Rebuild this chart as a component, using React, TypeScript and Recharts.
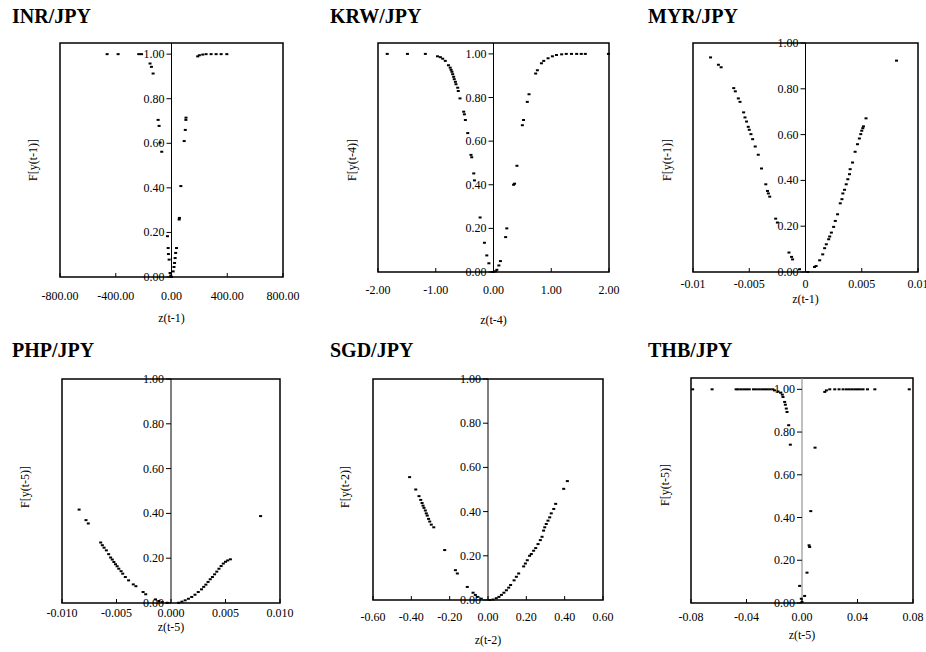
import React from "react";
import { ScatterChart, Scatter, XAxis, YAxis, ReferenceLine, ReferenceArea } from "recharts";

const serif = '"Liberation Serif", "DejaVu Serif", "Times New Roman", serif';

// y ticks shared by all panels
const yTicks = [0, 0.2, 0.4, 0.6, 0.8, 1.0];
const yTickLabels = ["0.00", "0.20", "0.40", "0.60", "0.80", "1.00"];

// INR/JPY
const inrTicks = [-800, -400, 0, 400, 800];
const inrTickLabels = ["-800.00", "-400.00", "0.00", "400.00", "800.00"];
const inrPoints = [
  [-462, 1.0], [-383, 1.0], [-235, 1.0], [-215, 1.0], [-154, 0.958], [-144, 0.943], [-132, 0.913],
  [-96, 0.705], [-89, 0.678], [-82, 0.603], [-70, 0.562], [-29, 0.183], [-24, 0.13], [-22, 0.103],
  [-17, 0.078], [-10, 0.018], [-5, 0.007], [0, 0.0], [12, 0.025], [18, 0.045], [22, 0.063],
  [26, 0.085], [30, 0.108], [36, 0.13], [55, 0.258], [57, 0.265], [67, 0.408], [91, 0.61],
  [99, 0.66], [103, 0.705], [104, 0.715], [188, 0.99], [200, 0.995], [224, 0.998], [248, 1.0],
  [284, 1.0], [320, 1.0], [356, 1.0], [397, 1.0],
];

// KRW/JPY
const krwTicks = [-2, -1, 0, 1, 2];
const krwTickLabels = ["-2.00", "-1.00", "0.00", "1.00", "2.00"];
const krwPoints = [
  [-1.84, 1.0], [-1.49, 1.0], [-1.18, 1.0], [-0.97, 0.989], [-0.92, 0.985], [-0.88, 0.978],
  [-0.835, 0.968], [-0.78, 0.948], [-0.75, 0.937], [-0.735, 0.927], [-0.72, 0.918], [-0.707, 0.907],
  [-0.69, 0.895], [-0.68, 0.884], [-0.66, 0.872], [-0.65, 0.861], [-0.62, 0.845], [-0.61, 0.83],
  [-0.58, 0.796], [-0.516, 0.735], [-0.504, 0.723], [-0.487, 0.697], [-0.446, 0.637],
  [-0.39, 0.537], [-0.377, 0.526], [-0.342, 0.452], [-0.33, 0.42], [-0.232, 0.25], [-0.157, 0.134],
  [-0.116, 0.076], [-0.08, 0.04], [-0.02, 0.0], [0.0, 0.0], [0.035, 0.003], [0.058, 0.01],
  [0.093, 0.03], [0.12, 0.05], [0.21, 0.16], [0.23, 0.2], [0.348, 0.4], [0.365, 0.405],
  [0.406, 0.487], [0.5, 0.673], [0.52, 0.697], [0.585, 0.78], [0.615, 0.815], [0.73, 0.91],
  [0.76, 0.925], [0.83, 0.957], [0.87, 0.968], [0.945, 0.98], [1.02, 0.989], [1.09, 0.995],
  [1.18, 0.998], [1.26, 1.0], [1.35, 1.0], [1.44, 1.0], [1.52, 1.0], [1.59, 1.0], [1.99, 1.0],
];

// MYR/JPY
const myrTicks = [-0.01, -0.005, 0, 0.005, 0.01];
const myrTickLabels = ["-0.01", "-0.005", "0", "0.005", "0.01"];
const myrPoints = [
  [-0.00844, 0.937], [-0.00774, 0.905], [-0.0075, 0.894], [-0.00638, 0.803], [-0.00624, 0.789],
  [-0.00597, 0.758], [-0.00582, 0.743], [-0.0055, 0.697], [-0.00538, 0.675], [-0.00524, 0.657],
  [-0.00509, 0.634], [-0.005, 0.621], [-0.00485, 0.602], [-0.0047, 0.58], [-0.00447, 0.548],
  [-0.0042, 0.512], [-0.00391, 0.452], [-0.00353, 0.383], [-0.00338, 0.354], [-0.0033, 0.343],
  [-0.00318, 0.329], [-0.00265, 0.233], [-0.0025, 0.216], [-0.00147, 0.085], [-0.00124, 0.066],
  [-0.00115, 0.055], [-0.00053, 0.012], [0.0002, 0.0], [0.0008, 0.022], [0.00094, 0.026],
  [0.00126, 0.051], [0.00153, 0.077], [0.0017, 0.104], [0.00185, 0.121], [0.00206, 0.143],
  [0.00215, 0.155], [0.0023, 0.172], [0.0025, 0.197], [0.00265, 0.223], [0.00285, 0.252],
  [0.00309, 0.3], [0.00324, 0.318], [0.00332, 0.343], [0.00347, 0.359], [0.00362, 0.383],
  [0.00376, 0.405], [0.00391, 0.427], [0.00397, 0.449], [0.00418, 0.478], [0.00441, 0.525],
  [0.00462, 0.558], [0.00479, 0.583], [0.00491, 0.602], [0.005, 0.617], [0.00509, 0.628],
  [0.00515, 0.636], [0.00538, 0.671], [0.00809, 0.923],
];

// PHP/JPY
const phpTicks = [-0.01, -0.005, 0, 0.005, 0.01];
const phpTickLabels = ["-0.010", "-0.005", "0.000", "0.005", "0.010"];
const phpPoints = [
  [-0.00843, 0.417], [-0.0078, 0.37], [-0.00759, 0.355], [-0.00645, 0.27], [-0.0063, 0.258],
  [-0.00614, 0.247], [-0.00593, 0.235], [-0.00572, 0.218], [-0.00554, 0.203], [-0.00539, 0.194],
  [-0.00524, 0.183], [-0.00509, 0.173], [-0.00494, 0.164], [-0.00479, 0.153], [-0.00458, 0.142],
  [-0.00443, 0.131], [-0.00419, 0.116], [-0.00389, 0.101], [-0.00346, 0.083], [-0.00322, 0.075],
  [-0.00256, 0.049], [-0.00232, 0.039], [-0.00142, 0.016], [-0.00111, 0.009], [-0.00081, 0.004],
  [-0.00036, 0.001], [0.0007, 0.001], [0.001, 0.006], [0.0013, 0.012], [0.0016, 0.019],
  [0.0019, 0.027], [0.0022, 0.037], [0.0025, 0.049], [0.0028, 0.061], [0.003, 0.072],
  [0.0032, 0.082], [0.0034, 0.094], [0.0036, 0.106], [0.0038, 0.116], [0.004, 0.128],
  [0.0042, 0.14], [0.0044, 0.153], [0.0046, 0.165], [0.0048, 0.176], [0.005, 0.184],
  [0.0052, 0.19], [0.00545, 0.195], [0.00822, 0.388],
];

// SGD/JPY
const sgdTicks = [-0.6, -0.4, -0.2, 0, 0.2, 0.4, 0.6];
const sgdTickLabels = ["-0.60", "-0.40", "-0.20", "0.00", "0.20", "0.40", "0.60"];
const sgdPoints = [
  [-0.409, 0.556], [-0.377, 0.5], [-0.36, 0.47], [-0.351, 0.453], [-0.344, 0.439], [-0.339, 0.427],
  [-0.334, 0.417], [-0.327, 0.405], [-0.322, 0.392], [-0.317, 0.382], [-0.31, 0.367],
  [-0.304, 0.355], [-0.296, 0.341], [-0.283, 0.329], [-0.226, 0.226], [-0.17, 0.135],
  [-0.16, 0.12], [-0.108, 0.059], [-0.078, 0.033], [-0.066, 0.023], [-0.056, 0.014],
  [-0.035, 0.006], [0.009, 0.0], [0.026, 0.002], [0.043, 0.008], [0.057, 0.014], [0.07, 0.023],
  [0.083, 0.033], [0.096, 0.044], [0.108, 0.056], [0.118, 0.068], [0.136, 0.089], [0.148, 0.105],
  [0.16, 0.12], [0.186, 0.152], [0.195, 0.165], [0.205, 0.18], [0.217, 0.2], [0.226, 0.208],
  [0.238, 0.223], [0.249, 0.235], [0.261, 0.253], [0.273, 0.271], [0.282, 0.286], [0.29, 0.314],
  [0.296, 0.329], [0.304, 0.344], [0.313, 0.359], [0.322, 0.374], [0.33, 0.392], [0.343, 0.412],
  [0.353, 0.435], [0.395, 0.503], [0.414, 0.538],
];

// THB/JPY
const thbTicks = [-0.08, -0.04, 0, 0.04, 0.08];
const thbTickLabels = ["-0.08", "-0.04", "0.00", "0.04", "0.08"];
const thbPoints = [
  [-0.0788, 1.0], [-0.0648, 1.0], [-0.0475, 1.0], [-0.046, 1.0], [-0.044, 1.0], [-0.042, 1.0],
  [-0.04, 1.0], [-0.038, 1.0], [-0.035, 1.0], [-0.033, 1.0], [-0.031, 1.0], [-0.029, 1.0],
  [-0.027, 1.0], [-0.025, 1.0], [-0.023, 1.0], [-0.021, 1.0], [-0.0198, 0.995], [-0.0173, 0.99],
  [-0.0154, 0.984], [-0.0142, 0.975], [-0.0137, 0.964], [-0.0125, 0.941], [-0.012, 0.928],
  [-0.0113, 0.91], [-0.0108, 0.894], [-0.0096, 0.832], [-0.0084, 0.741], [-0.0017, 0.08],
  [-0.0005, 0.02], [0.0, 0.005], [0.0019, 0.033], [0.0036, 0.142], [0.0051, 0.27],
  [0.0055, 0.262], [0.0063, 0.43], [0.0094, 0.727], [0.0164, 0.988], [0.0176, 0.995],
  [0.02, 1.0], [0.0236, 1.0], [0.0267, 1.0], [0.0296, 1.0], [0.032, 1.0], [0.034, 1.0],
  [0.036, 1.0], [0.038, 1.0], [0.04, 1.0], [0.042, 1.0], [0.044, 1.0], [0.0472, 1.0],
  [0.0525, 1.0], [0.0773, 1.0],
];

const Mark = (props: any) => {
  const { cx, cy } = props;
  return <rect x={cx - 1.5} y={cy - 1} width={3} height={2} fill="#000" />;
};

type PanelProps = {
  title: string;
  xLabel: string;
  yLabel: string;
  points: number[][];
  xTicks: number[];
  xTickLabels: string[];
  yMax: number;
  box: [number, number, number, number]; // left, right, top, bottom of plot
  tickDy: number;
  xLabelY: number;
  yLabelX: number;
  yLabelY: number;
  titleX: number;
  titleY: number;
  zeroColor?: string;
};

const Panel = (p: PanelProps) => {
  const [L, R, T, B] = p.box;
  const plotW = R - L;
  const plotH = B - T;
  const padL = 50;
  const padT = 20;
  const w = plotW + 100;
  const h = plotH + padT + 45;
  const xMin = p.xTicks[0];
  const xMax = p.xTicks[p.xTicks.length - 1];
  const zeroX = padL + plotW / 2;
  const data = p.points.map(([x, y]) => ({ x, y }));

  const XTick = (t: any) => {
    const i = p.xTicks.findIndex((v) => Math.abs(v - t.payload.value) < 1e-9);
    return (
      <g>
        <line x1={t.x} x2={t.x} y1={t.y} y2={t.y - 4} stroke="#000" />
        <text x={t.x} y={t.y + p.tickDy} textAnchor="middle" fontSize={12} fontFamily={serif} fill="#000">
          {i >= 0 ? p.xTickLabels[i] : t.payload.value}
        </text>
      </g>
    );
  };

  const YTick = (t: any) => {
    const i = yTicks.findIndex((v) => Math.abs(v - t.payload.value) < 1e-9);
    return (
      <g>
        <line x1={zeroX - 5} x2={zeroX} y1={t.y} y2={t.y} stroke="#000" />
        <text x={zeroX - 7} y={t.y + 4} textAnchor="end" fontSize={12} fontFamily={serif} fill="#000">
          {i >= 0 ? yTickLabels[i] : t.payload.value}
        </text>
      </g>
    );
  };

  return (
    <>
      <div
        style={{
          position: "absolute",
          left: p.titleX,
          top: p.titleY,
          fontFamily: serif,
          fontWeight: "bold",
          fontSize: 20,
          lineHeight: "20px",
          whiteSpace: "nowrap",
        }}
      >
        {p.title}
      </div>
      <div style={{ position: "absolute", left: L - padL, top: T - padT }}>
        <ScatterChart width={w} height={h} margin={{ top: padT, left: padL - 1, right: 50, bottom: 0 }}>
          <XAxis
            type="number"
            dataKey="x"
            domain={[xMin, xMax]}
            ticks={p.xTicks}
            interval={0}
            axisLine={false}
            tickLine={false}
            tickSize={0}
            tickMargin={0}
            height={45}
            tick={XTick}
          />
          <YAxis
            type="number"
            dataKey="y"
            domain={[0, p.yMax]}
            ticks={yTicks}
            interval={0}
            axisLine={false}
            tickLine={false}
            tickSize={0}
            tickMargin={0}
            width={1}
            tick={YTick}
          />
          <ReferenceLine x={0} stroke={p.zeroColor || "#000"} strokeWidth={1} />
          <Scatter data={data} shape={Mark} isAnimationActive={false} />
          <ReferenceArea
            x1={xMin}
            x2={xMax}
            y1={0}
            y2={p.yMax}
            fill="none"
            fillOpacity={0}
            stroke="#000"
            strokeWidth={1.5}
            ifOverflow="visible"
          />
        </ScatterChart>
      </div>
      <div
        style={{
          position: "absolute",
          left: L + plotW / 2 - 50,
          width: 100,
          top: p.xLabelY - 8,
          textAlign: "center",
          fontFamily: serif,
          fontSize: 12,
          lineHeight: "16px",
        }}
      >
        {p.xLabel}
      </div>
      <div
        style={{
          position: "absolute",
          left: p.yLabelX - 50,
          width: 100,
          top: p.yLabelY - 8,
          textAlign: "center",
          fontFamily: serif,
          fontSize: 12,
          lineHeight: "16px",
          transform: "rotate(-90deg)",
        }}
      >
        {p.yLabel}
      </div>
    </>
  );
};

const App: React.FC = () => {
  return (
    <div
      style={{
        position: "absolute",
        left: 0,
        top: 0,
        width: 926,
        height: 652,
        overflow: "hidden",
        background: "#fff",
      }}
    >
      <Panel
        title="INR/JPY" xLabel="z(t-1)" yLabel="F[y(t-1)]" points={inrPoints}
        xTicks={inrTicks} xTickLabels={inrTickLabels} yMax={1.05}
        box={[60, 283, 43, 277]} tickDy={23} xLabelY={318} yLabelX={33} yLabelY={160}
        titleX={12} titleY={6}
      />
      <Panel
        title="KRW/JPY" xLabel="z(t-4)" yLabel="F[y(t-4)]" points={krwPoints}
        xTicks={krwTicks} xTickLabels={krwTickLabels} yMax={1.05}
        box={[378, 609, 43, 272]} tickDy={22} xLabelY={320} yLabelX={352} yLabelY={160}
        titleX={330} titleY={6}
      />
      <Panel
        title="MYR/JPY" xLabel="z(t-1)" yLabel="F[y(t-1)]" points={myrPoints}
        xTicks={myrTicks} xTickLabels={myrTickLabels} yMax={1.0}
        box={[693, 918, 43, 272]} tickDy={16} xLabelY={299} yLabelX={667} yLabelY={160}
        titleX={648} titleY={6}
      />
      <Panel
        title="PHP/JPY" xLabel="z(t-5)" yLabel="F[y(t-5)]" points={phpPoints}
        xTicks={phpTicks} xTickLabels={phpTickLabels} yMax={1.0}
        box={[62, 280, 379, 603]} tickDy={14} xLabelY={627} yLabelX={25} yLabelY={487}
        titleX={12} titleY={340}
      />
      <Panel
        title="SGD/JPY" xLabel="z(t-2)" yLabel="F[y(t-2)]" points={sgdPoints}
        xTicks={sgdTicks} xTickLabels={sgdTickLabels} yMax={1.0}
        box={[373, 603, 379, 600]} tickDy={21} xLabelY={640} yLabelX={345} yLabelY={487}
        titleX={330} titleY={340}
      />
      <Panel
        title="THB/JPY" xLabel="z(t-5)" yLabel="F[y(t-5)]" points={thbPoints}
        xTicks={thbTicks} xTickLabels={thbTickLabels} yMax={1.053}
        box={[691, 913, 378, 603]} tickDy={18} xLabelY={635} yLabelX={665} yLabelY={485}
        titleX={648} titleY={340} zeroColor="#808080"
      />
    </div>
  );
};

export default App;
